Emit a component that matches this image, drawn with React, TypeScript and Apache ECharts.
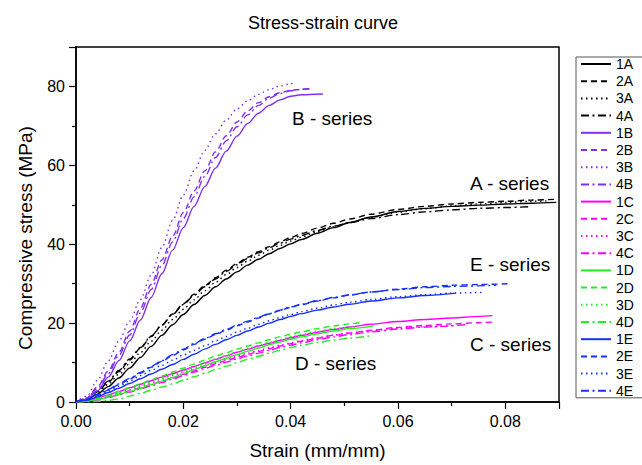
import React, { useEffect, useRef } from "react";
import * as echarts from "echarts";

const STRAIN = [0, 0.002, 0.004, 0.006, 0.008, 0.01, 0.012, 0.014, 0.016, 0.018, 0.02, 0.022, 0.024, 0.026, 0.028, 0.03, 0.032, 0.034, 0.036, 0.038, 0.04, 0.042, 0.045, 0.048, 0.051, 0.055, 0.06, 0.065, 0.07, 0.075, 0.08, 0.085, 0.09];

const S1A = [0, 0.6, 2.0, 3.9, 6.1, 8.6, 11.3, 14.1, 16.9, 19.6, 22.2, 24.7, 27.0, 29.2, 31.2, 33.0, 34.7, 36.2, 37.6, 38.9, 40.1, 41.2, 42.8, 44.2, 45.5, 46.9, 48.3, 49.1, 49.6, 49.9, 50.2, 50.4, 50.6];
const S2A = [0, 0.8, 2.6, 5.0, 7.7, 10.6, 13.6, 16.6, 19.5, 22.3, 24.9, 27.3, 29.5, 31.5, 33.4, 35.1, 36.7, 38.1, 39.4, 40.6, 41.7, 42.7, 44.1, 45.3, 46.4, 47.6, 48.8, 49.6, 50.2, 50.6, 50.9, 51.2, 51.4];
const S3A = [0, 0.7, 2.3, 4.5, 7.0, 9.7, 12.5, 15.4, 18.2, 20.9, 23.5, 25.9, 28.2, 30.3, 32.3, 34.1, 35.7, 37.2, 38.5, 39.7, 40.8, 41.8, 43.2, 44.4, 45.5, 46.8, 48.1, 49.0, 49.7, 50.2, 50.6, 50.9, 51.0];
const S4A = [0, 0.9, 2.8, 5.3, 8.0, 10.9, 13.8, 16.7, 19.5, 22.2, 24.7, 27.0, 29.2, 31.2, 33.1, 34.8, 36.4, 37.8, 39.1, 40.3, 41.3, 42.2, 43.5, 44.6, 45.5, 46.5, 47.5, 48.2, 48.7, 49.1, 49.3, 49.5];

const S1B = [0, 0.7, 2.8, 6.3, 10.5, 15.5, 20.8, 26.5, 32.5, 38.5, 44.2, 49.6, 54.6, 59.3, 63.6, 67.4, 70.6, 73.2, 75.2, 76.6, 77.5, 77.9, 78.1];
const S2B = [0, 1.0, 3.8, 7.8, 12.6, 18.0, 23.8, 29.8, 36.0, 42.0, 48.0, 53.5, 58.6, 63.4, 67.5, 71.0, 73.8, 75.9, 77.4, 78.4, 79.0, 79.3, 79.4];
const S3B = [0, 1.5, 5.5, 10.4, 15.5, 20.5, 26.0, 32.2, 39.2, 46.0, 52.5, 58.6, 63.8, 68.0, 71.5, 74.3, 76.4, 78.0, 79.2, 80.1, 80.7, 81.0];
const S4B = [0, 0.9, 3.4, 7.2, 11.8, 17.0, 22.6, 28.5, 34.6, 40.6, 46.5, 52.0, 57.2, 62.0, 66.2, 69.8, 72.8, 75.2, 77.0, 78.2, 78.9, 79.3, 79.4];

const S1C = [0, 0.3, 1.0, 1.8, 2.7, 3.6, 4.5, 5.4, 6.3, 7.2, 8.1, 9.0, 9.9, 10.8, 11.7, 12.6, 13.4, 14.2, 14.9, 15.6, 16.3, 16.9, 17.7, 18.4, 19.0, 19.7, 20.4, 20.9, 21.3, 21.7, 21.9];
const S2C = [0, 0.2, 0.7, 1.3, 2.0, 2.8, 3.6, 4.4, 5.3, 6.1, 7.0, 7.9, 8.8, 9.7, 10.5, 11.3, 12.1, 12.8, 13.5, 14.2, 14.8, 15.4, 16.2, 16.9, 17.5, 18.2, 18.9, 19.4, 19.8, 20.1, 20.3];
const S3C = [0, 0.3, 0.8, 1.5, 2.3, 3.1, 4.0, 4.9, 5.8, 6.7, 7.6, 8.5, 9.3, 10.1, 10.9, 11.7, 12.4, 13.1, 13.8, 14.4, 15.0, 15.6, 16.3, 17.0, 17.5, 18.1, 18.7, 19.1, 19.4];
const S4C = [0, 0.15, 0.5, 1.1, 1.8, 2.5, 3.3, 4.1, 4.9, 5.8, 6.7, 7.6, 8.5, 9.3, 10.1, 10.9, 11.7, 12.4, 13.1, 13.8, 14.4, 15.0, 15.8, 16.5, 17.1, 17.8, 18.5, 19.0, 19.6];

const S1D = [0, 0.2, 0.6, 1.2, 1.9, 2.7, 3.5, 4.4, 5.3, 6.2, 7.2, 8.2, 9.2, 10.2, 11.1, 12.0, 12.9, 13.7, 14.5, 15.2, 15.9, 16.5, 17.3, 18.0, 18.6, 19.3];
const S2D = [0, 0.3, 0.9, 1.7, 2.6, 3.6, 4.6, 5.6, 6.6, 7.6, 8.6, 9.6, 10.6, 11.6, 12.5, 13.4, 14.2, 15.0, 15.8, 16.5, 17.2, 17.8, 18.6, 19.3, 19.8, 20.1];
const S3D = [0, 0.25, 0.75, 1.45, 2.25, 3.15, 4.05, 5.0, 5.95, 6.9, 7.9, 8.9, 9.9, 10.9, 11.8, 12.7, 13.55, 14.35, 15.15, 15.85, 16.55, 17.15, 17.95, 18.65, 19.0];
const S4D = [0, 0.05, 0.15, 0.4, 0.8, 1.5, 2.2, 3.0, 3.8, 4.6, 5.5, 6.4, 7.3, 8.2, 9.1, 10.0, 10.8, 11.6, 12.4, 13.1, 13.8, 14.4, 15.1, 15.7, 16.2, 16.8];

const S1E = [0, 0.4, 1.3, 2.4, 3.5, 4.7, 5.9, 7.1, 8.3, 9.5, 10.8, 12.1, 13.4, 14.6, 15.8, 16.9, 18.0, 19.0, 20.0, 20.9, 21.7, 22.4, 23.3, 24.1, 24.8, 25.6, 26.4, 27.0, 27.6];
const S2E = [0, 0.6, 1.7, 3.0, 4.4, 5.8, 7.3, 8.8, 10.3, 11.8, 13.2, 14.6, 15.9, 17.1, 18.2, 19.3, 20.3, 21.3, 22.3, 23.2, 24.0, 24.7, 25.6, 26.4, 27.1, 27.9, 28.6, 29.2, 29.6, 29.8, 30.0];
const S3E = [0, 0.5, 1.5, 2.7, 4.0, 5.3, 6.7, 8.0, 9.3, 10.6, 11.9, 13.1, 14.3, 15.5, 16.6, 17.7, 18.7, 19.7, 20.6, 21.4, 22.2, 22.9, 23.8, 24.6, 25.3, 26.0, 26.7, 27.2, 27.6, 27.8];
const S4E = [0, 0.7, 1.9, 3.2, 4.6, 6.0, 7.5, 9.0, 10.5, 12.0, 13.4, 14.8, 16.1, 17.3, 18.4, 19.5, 20.5, 21.5, 22.4, 23.3, 24.1, 24.8, 25.7, 26.5, 27.2, 27.9, 28.5, 29.0, 29.3, 29.6];

const NAMES = ["1A", "2A", "3A", "4A", "1B", "2B", "3B", "4B", "1C", "2C", "3C", "4C", "1D", "2D", "3D", "4D", "1E", "2E", "3E", "4E"];
const VALUES = [S1A, S2A, S3A, S4A, S1B, S2B, S3B, S4B, S1C, S2C, S3C, S4C, S1D, S2D, S3D, S4D, S1E, S2E, S3E, S4E];
const END_STRAIN = [0.0895, 0.0895, 0.088, 0.0845, 0.046, 0.044, 0.041, 0.0435, 0.0776, 0.078, 0.0705, 0.0727, 0.0555, 0.0528, 0.052, 0.055, 0.0708, 0.0811, 0.0758, 0.0783];

const GROUP_COLORS = ["#000000", "#8030F0", "#FF00FF", "#22EE22", "#1530FF"];
const DASHES: any[] = ["solid", [6, 4], [1.5, 3.5], [8, 3.5, 2, 3.5]];

const X_TICKS = [0, 0.02, 0.04, 0.06, 0.08];
const Y_TICKS = [0, 20, 40, 60, 80];

const LABELS = [
  { text: "B - series", x: 292, y: 118 },
  { text: "A - series", x: 470, y: 183 },
  { text: "E - series", x: 470, y: 264 },
  { text: "C - series", x: 470, y: 344 },
  { text: "D - series", x: 295, y: 363 },
];

const FONT = "'Liberation Sans', Arial, sans-serif";

export default function App() {
  const ref = useRef<HTMLDivElement>(null);
  useEffect(() => {
    if (!ref.current) return;
    const chart = echarts.init(ref.current, undefined, { renderer: "svg" });
    const series = VALUES.map((ys, k) => {
      const data = ys.map((y, i) => [i === ys.length - 1 ? END_STRAIN[k] : STRAIN[i], y]);
      const color = GROUP_COLORS[Math.floor(k / 4)];
      return {
        name: NAMES[k],
        type: "line",
        data,
        smooth: 0.3,
        smoothMonotone: "x",
        symbol: "none",
        showSymbol: false,
        color,
        lineStyle: { color, width: 1.4, type: DASHES[k % 4] },
        z: 2,
      };
    });
    chart.setOption({
      animation: false,
      textStyle: { fontFamily: FONT },
      title: {
        text: "Stress-strain curve",
        left: 318,
        top: 9,
        textAlign: "center",
        textStyle: { fontSize: 18, fontWeight: "normal", color: "#000", fontFamily: FONT },
      },
      grid: { left: 76, top: 47, right: 83, bottom: 62, show: true, borderColor: "#000", borderWidth: 1.5, backgroundColor: "transparent" },
      legend: {
        orient: "vertical",
        left: 576,
        top: 57,
        data: NAMES,
        itemWidth: 30,
        itemHeight: 14,
        itemGap: 3.2,
        padding: [0, 12, 0, 4],
        borderColor: "#555",
        borderWidth: 1,
        itemStyle: { color: "transparent", borderWidth: 0, opacity: 0 },
        textStyle: { fontSize: 14, color: "#000", fontFamily: FONT, lineHeight: 14 },
      },
      xAxis: {
        type: "value",
        min: 0,
        max: 0.09,
        interval: 0.02,
        name: "Strain (mm/mm)",
        nameLocation: "middle",
        nameGap: 39,
        nameTextStyle: { fontSize: 19, color: "#000", fontFamily: FONT },
        axisLine: { show: true, onZero: false, lineStyle: { color: "#000", width: 1.5 } },
        axisTick: { show: true, inside: false, length: 7, lineStyle: { color: "#000", width: 1.2 } },
        minorTick: { show: true, splitNumber: 2, length: 4, lineStyle: { color: "#000", width: 1.2 } },
        axisLabel: {
          fontSize: 16,
          color: "#000",
          margin: 11,
          fontFamily: FONT,
          formatter: (v: number) => (X_TICKS.some((t) => Math.abs(t - v) < 1e-9) ? v.toFixed(2) : ""),
        },
        splitLine: { show: false },
      },
      yAxis: {
        type: "value",
        min: 0,
        max: 90,
        interval: 20,
        axisLine: { show: true, onZero: false, lineStyle: { color: "#000", width: 1.5 } },
        axisTick: { show: true, inside: false, length: 7, lineStyle: { color: "#000", width: 1.2 } },
        minorTick: { show: true, splitNumber: 2, length: 4, lineStyle: { color: "#000", width: 1.2 } },
        axisLabel: {
          fontSize: 16,
          color: "#000",
          margin: 11,
          fontFamily: FONT,
          formatter: (v: number) => (Y_TICKS.includes(v) ? String(v) : ""),
        },
        splitLine: { show: false },
      },
      graphic: [
        ...LABELS.map((l) => ({
          type: "text",
          x: l.x,
          y: l.y,
          style: { text: l.text, fontSize: 19, fill: "#000", fontFamily: FONT, verticalAlign: "middle" },
          z: 10,
        })),
        {
          type: "text",
          x: 25,
          y: 238,
          rotation: Math.PI / 2,
          style: {
            text: "Compressive stress (MPa)",
            fontSize: 19,
            fill: "#000",
            fontFamily: FONT,
            align: "center",
            verticalAlign: "middle",
          },
        },
      ],
      series,
    });
    return () => chart.dispose();
  }, []);
  return <div ref={ref} style={{ position: "fixed", left: 0, top: 0, width: 642, height: 465, background: "#fff" }} />;
}
